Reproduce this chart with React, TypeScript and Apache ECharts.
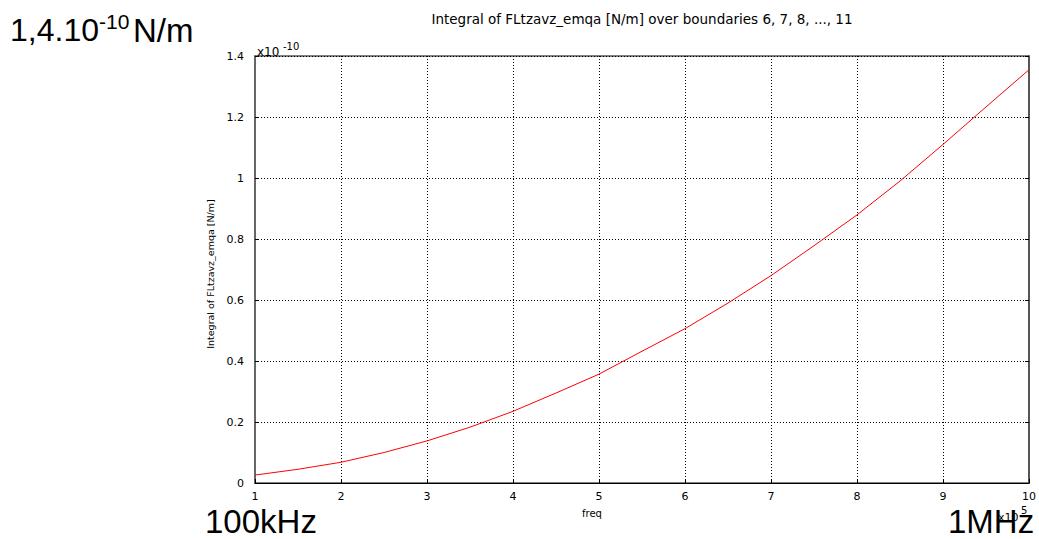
import React, { useEffect, useRef } from "react";
import * as echarts from "echarts";

// frequency in units of 1e5 Hz
const freqE5 = [1, 1.5, 2, 2.5, 3, 3.5, 4, 4.5, 5, 5.5, 6, 6.5, 7, 7.5, 8, 8.5, 9, 9.5, 10];
// integral of FLtzavz_emqa in units of 1e-10 N/m
const forceE10 = [
  0.026, 0.045, 0.068, 0.1, 0.138, 0.183, 0.235, 0.295, 0.357, 0.432,
  0.506, 0.59, 0.68, 0.778, 0.879, 0.99, 1.11, 1.233, 1.355,
];
const yTicks = { min: 0, max: 1.4, interval: 0.2 };
const xTicks = { min: 1, max: 10, interval: 1 };

const titleText = "Integral of FLtzavz_emqa [N/m] over boundaries 6, 7, 8, ..., 11";
const yName = "Integral of FLtzavz_emqa [N/m]";
const xName = "freq";

const big = "'Liberation Sans', Arial, sans-serif";
const small = "'DejaVu Sans', Verdana, sans-serif";

export default function App() {
  const ref = useRef<HTMLDivElement>(null);

  useEffect(() => {
    if (!ref.current) return;
    const chart = echarts.init(ref.current, null, { renderer: "svg" });
    const fmt = (v: number) => String(+v.toFixed(1));
    const gridLine = { show: true, lineStyle: { color: "#000", width: 1, type: [1, 2] as any } };

    chart.setOption({
      animation: false,
      backgroundColor: "#fff",
      grid: {
        left: 255,
        right: 10,
        top: 56,
        bottom: 56,
        show: true,
        borderColor: "#000",
        borderWidth: 1,
      },
      xAxis: {
        type: "value",
        ...xTicks,
        axisLine: { show: true, onZero: false, lineStyle: { color: "#000", width: 1 } },
        axisTick: { show: true, inside: true, length: 4, lineStyle: { color: "#000" } },
        axisLabel: { color: "#000", fontFamily: small, fontSize: 11, margin: 8, formatter: fmt },
        splitLine: gridLine,
      },
      yAxis: [
        {
          type: "value",
          ...yTicks,
          axisLine: { show: true, onZero: false, lineStyle: { color: "#666", width: 2 } },
          axisTick: { show: true, inside: true, length: 4, lineStyle: { color: "#000" } },
          axisLabel: { color: "#000", fontFamily: small, fontSize: 11, margin: 11, formatter: fmt },
          splitLine: gridLine,
        },
        {
          type: "value",
          position: "right",
          ...yTicks,
          axisLine: { show: true, onZero: false, lineStyle: { color: "#555", width: 2 } },
          axisTick: { show: true, inside: true, length: 4, lineStyle: { color: "#000" } },
          axisLabel: { show: false },
          splitLine: { show: false },
        },
      ],
      series: [
        {
          type: "line",
          data: freqE5.map((f, i) => [f, forceE10[i]]),
          showSymbol: false,
          lineStyle: { color: "#ff0000", width: 1 },
          itemStyle: { color: "#ff0000" },
        },
      ],
      graphic: [
        {
          type: "text",
          x: 642,
          y: 19,
          style: { text: titleText, font: `13.5px ${small}`, fill: "#000", align: "center", verticalAlign: "middle" },
        },
        {
          type: "text",
          x: 210,
          y: 274,
          rotation: Math.PI / 2,
          style: { text: yName, font: `9.5px ${small}`, fill: "#000", align: "center", verticalAlign: "middle" },
        },
        {
          type: "text",
          x: 592,
          y: 513,
          style: { text: xName, font: `10px ${small}`, fill: "#000", align: "center", verticalAlign: "middle" },
        },
        // axis exponent markers
        { type: "text", x: 257, y: 52, style: { text: "x10", font: `12px ${small}`, fill: "#000", verticalAlign: "middle" } },
        { type: "text", x: 283, y: 46, style: { text: "-10", font: `10px ${small}`, fill: "#000", verticalAlign: "middle" } },
        { type: "text", x: 998, y: 517, style: { text: "x10", font: `11px ${small}`, fill: "#000", verticalAlign: "middle" } },
        { type: "text", x: 1021, y: 510, style: { text: "5", font: `10px ${small}`, fill: "#000", verticalAlign: "middle" } },
        // large annotations
        { type: "text", x: 10, y: 30, style: { text: "1,4.10", font: `32px ${big}`, fill: "#000", verticalAlign: "middle" } },
        { type: "text", x: 99, y: 21, style: { text: "-10", font: `21px ${big}`, fill: "#000", verticalAlign: "middle" } },
        { type: "text", x: 133, y: 30, style: { text: "N/m", font: `33px ${big}`, fill: "#000", verticalAlign: "middle" } },
        { type: "text", x: 205, y: 521, style: { text: "100kHz", font: `33px ${big}`, fill: "#000", verticalAlign: "middle" } },
        { type: "text", x: 948, y: 521, style: { text: "1MHz", font: `33px ${big}`, fill: "#000", verticalAlign: "middle" } },
      ],
    });

    return () => chart.dispose();
  }, []);

  return (
    <div
      ref={ref}
      style={{ position: "absolute", left: 0, top: 0, width: 1039, height: 539, background: "#fff" }}
    />
  );
}
